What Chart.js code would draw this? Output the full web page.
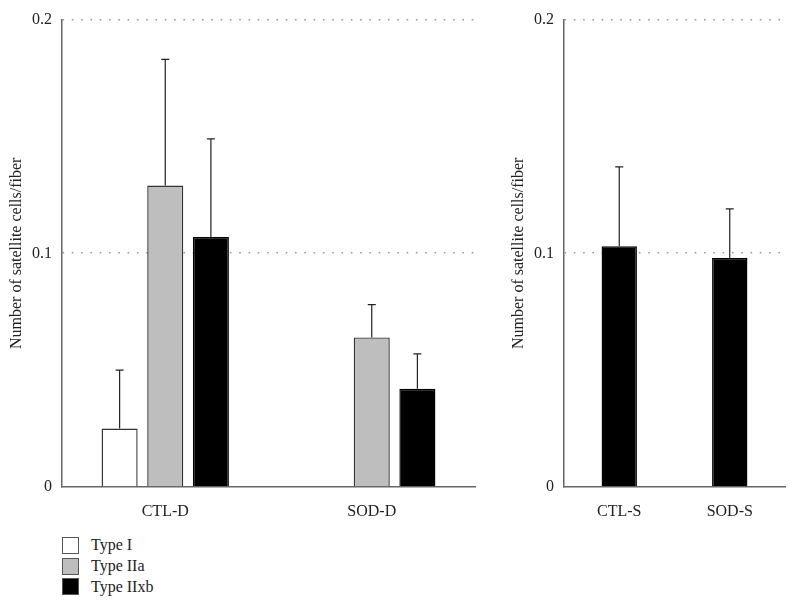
<!DOCTYPE html>
<html>
<head>
<meta charset="utf-8">
<script src="https://cdn.jsdelivr.net/npm/chart.js@4/dist/chart.umd.min.js"></script>
<style>
  body { margin: 0; background: #fff; }
  #wrap { position: relative; width: 796px; height: 604px; font-family: "Liberation Serif", serif; }
  #leftChart { position: absolute; left: 0; top: 0; }
  #rightChart { position: absolute; left: 500px; top: 0; }
  #legend { position: absolute; left: 62px; top: 535px; font-size: 16px; color: #222; }
  .item { display: flex; align-items: center; height: 20.7px; }
  .box { width: 15px; height: 15px; border: 1px solid #555; margin-right: 12px; box-sizing: content-box; }
</style>
</head>
<body>
<div id="wrap">
  <canvas id="leftChart" width="490" height="520"></canvas>
  <canvas id="rightChart" width="296" height="520"></canvas>
  <div id="legend"></div>
</div>
<script>
// data
const categoriesD = ["CTL-D", "SOD-D"];
const typeI = [0.025, 0];
const typeIIa = [0.129, 0.064];
const typeIIxb = [0.107, 0.042];
const errTypeI = [0.025, null];
const errTypeIIa = [0.054, 0.014];
const errTypeIIxb = [0.042, 0.015];

const categoriesS = ["CTL-S", "SOD-S"];
const typeIIxbS = [0.103, 0.098];
const errTypeIIxbS = [0.034, 0.021];

const yTicks = [0, 0.1, 0.2];
const yTitle = "Number of satellite cells/fiber";

const font = { family: "'Liberation Serif', serif", size: 16 };
const textColor = "#222";
const axisColor = "#666";

// draws the upper half of each error bar with a small cap
const errorBars = {
  id: "errorBars",
  afterDatasetsDraw(chart) {
    const ctx = chart.ctx;
    const y = chart.scales.y;
    chart.data.datasets.forEach((ds, i) => {
      const meta = chart.getDatasetMeta(i);
      meta.data.forEach((bar, j) => {
        const err = ds.errors[j];
        if (err == null) return;
        const top = y.getPixelForValue(ds.data[j] + err);
        ctx.save();
        ctx.strokeStyle = "#222";
        ctx.lineWidth = 1.2;
        ctx.beginPath();
        ctx.moveTo(bar.x, bar.y);
        ctx.lineTo(bar.x, top);
        ctx.moveTo(bar.x - 4, top);
        ctx.lineTo(bar.x + 4, top);
        ctx.stroke();
        ctx.restore();
      });
    });
  },
};

function scales(yWidth, titlePad) {
  return {
    x: {
      grid: { display: false },
      border: { display: true, color: axisColor, width: 1.5 },
      ticks: { color: textColor, font: font, padding: 7 },
      afterFit: (s) => { s.height = 33; },
    },
    y: {
      min: 0,
      max: 0.2,
      afterBuildTicks: (s) => { s.ticks = yTicks.map((v) => ({ value: v })); },
      grid: {
        drawTicks: false,
        lineWidth: 1.6,
        color: (c) => (c.tick && c.tick.value === 0 ? "rgba(0,0,0,0)" : "#999"),
      },
      border: { display: true, color: axisColor, width: 1.5, dash: [1.6, 7.7] },
      ticks: { color: textColor, font: font, padding: 10 },
      title: { display: true, text: yTitle, color: textColor, font: font, padding: { top: titlePad, bottom: 0 } },
      afterFit: (s) => { s.width = yWidth; },
    },
  };
}

const leftChart = new Chart(document.getElementById("leftChart"), {
  type: "bar",
  data: {
    labels: categoriesD,
    datasets: [
      { label: "Type I", data: typeI, errors: errTypeI, backgroundColor: "#ffffff", borderColor: "#333", borderWidth: 1.4 },
      { label: "Type IIa", data: typeIIa, errors: errTypeIIa, backgroundColor: "#bebebe", borderColor: "#333", borderWidth: 1.4 },
      { label: "Type IIxb", data: typeIIxb, errors: errTypeIIxb, backgroundColor: "#000000", borderColor: "#000", borderWidth: 1.4 },
    ],
  },
  options: {
    responsive: false,
    animation: false,
    datasets: { bar: { categoryPercentage: 0.663, barPercentage: 0.79 } },
    layout: { padding: { top: 17, right: 15, bottom: 0, left: 0 } },
    plugins: { legend: { display: false }, tooltip: { enabled: false } },
    scales: scales(62, 7),
  },
  plugins: [errorBars],
});

const rightChart = new Chart(document.getElementById("rightChart"), {
  type: "bar",
  data: {
    labels: categoriesS,
    datasets: [
      { label: "Type IIxb", data: typeIIxbS, errors: errTypeIIxbS, backgroundColor: "#000000", borderColor: "#000", borderWidth: 1.4 },
    ],
  },
  options: {
    responsive: false,
    animation: false,
    datasets: { bar: { categoryPercentage: 1, barPercentage: 0.32 } },
    layout: { padding: { top: 17, right: 11, bottom: 0, left: 0 } },
    plugins: { legend: { display: false }, tooltip: { enabled: false } },
    scales: scales(64, 9),
  },
  plugins: [errorBars],
});

// legend under the left panel, built from the left chart's datasets
const legend = document.getElementById("legend");
leftChart.data.datasets.forEach((ds) => {
  const row = document.createElement("div");
  row.className = "item";
  const box = document.createElement("span");
  box.className = "box";
  box.style.background = ds.backgroundColor;
  const label = document.createElement("span");
  label.textContent = ds.label;
  row.appendChild(box);
  row.appendChild(label);
  legend.appendChild(row);
});
</script>
</body>
</html>
